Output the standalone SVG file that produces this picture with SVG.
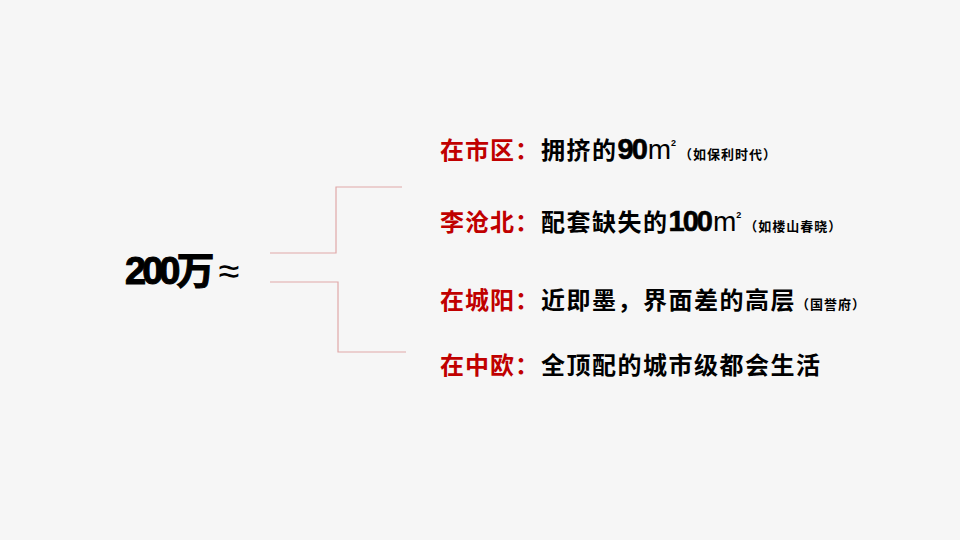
<svg xmlns="http://www.w3.org/2000/svg" width="960" height="540" viewBox="0 0 960 540">
<style>
text{font-family:"Liberation Sans","Noto Sans CJK SC",sans-serif;font-weight:bold}
.r{fill:#c00000;font-size:24px;letter-spacing:1px}
.b{fill:#000;font-size:24px;letter-spacing:1.5px}
.d{fill:#000;font-size:29px;letter-spacing:-2px;stroke:#000;stroke-width:0.6}
.m{fill:#000;font-size:28px;font-weight:normal}
.s{fill:#000;font-size:13px;letter-spacing:1px}
.c{fill:none;stroke:#e0a8a8;stroke-width:1.2}
</style>
<rect width="960" height="540" fill="#f6f6f6"/>
<g id="root"><text x="125" y="284" style="font-size:38px;letter-spacing:-4px;stroke:#000;stroke-width:1" fill="#000">200万<tspan dx="8" style="font-weight:normal;letter-spacing:0;stroke:none;font-size:38px">≈</tspan></text></g>
<g id="connectors">
<polyline class="c" points="270,253 336,253 336,187 402,187"/>
<polyline class="c" points="270,282 338,282 338,352 406,352"/>
</g>
<g id="n1"><text y="159"><tspan class="r" x="440">在市区：</tspan><tspan class="b" x="541">拥挤的</tspan><tspan class="d">90</tspan><tspan class="m" dx="2">m</tspan><tspan class="s" dy="-13" style="font-size:9px">2</tspan><tspan class="s" dy="13" dx="2">（如保利时代）</tspan></text></g>
<g id="n2"><text y="231"><tspan class="r" x="440">李沧北：</tspan><tspan class="b" x="541">配套缺失的</tspan><tspan class="d">100</tspan><tspan class="m" dx="2">m</tspan><tspan class="s" dy="-13" style="font-size:9px">2</tspan><tspan class="s" dy="13" dx="2">（如楼山春晓）</tspan></text></g>
<g id="n3"><text y="309"><tspan class="r" x="440">在城阳：</tspan><tspan class="b" x="541">近即墨，界面差的高层</tspan><tspan class="s">（国誉府）</tspan></text></g>
<g id="n4"><text y="374"><tspan class="r" x="440">在中欧：</tspan><tspan class="b" x="541">全顶配的城市级都会生活</tspan></text></g>
</svg>
